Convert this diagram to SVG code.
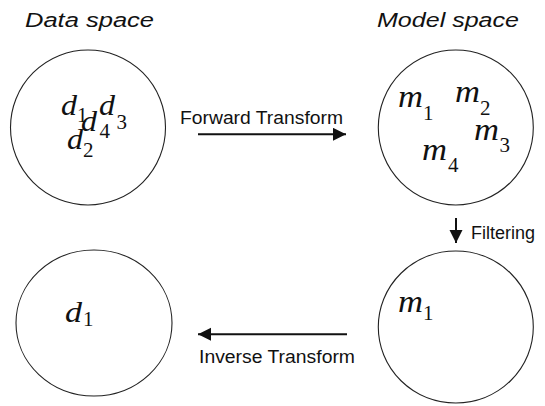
<svg xmlns="http://www.w3.org/2000/svg" width="545" height="406" viewBox="0 0 545 406">
<defs>
<style>
.ring{fill:none;stroke:#222;stroke-width:1.1}
.title{font-family:"Liberation Sans",Arial,sans-serif;font-style:italic;font-size:20px;fill:#111}
.lbl{font-family:"Liberation Sans",Arial,sans-serif;font-size:17.5px;fill:#111}
.v{font-family:"Liberation Serif","Times New Roman",serif;font-style:italic;font-size:29px;fill:#111}
.m{font-family:"Liberation Serif","Times New Roman",serif;font-style:italic;font-size:31px;fill:#111}
.s{font-family:"Liberation Serif","Times New Roman",serif;font-size:21px;fill:#111}
.conn{stroke:#111;stroke-width:2;fill:none}
</style>
<marker id="ah" markerUnits="userSpaceOnUse" markerWidth="14" markerHeight="14" refX="13" refY="6.5" orient="auto">
<path d="M0,0 L13,6.5 L0,13 Z" fill="#111"/>
</marker>
</defs>
<text class="title" x="25" y="27" textLength="129" lengthAdjust="spacingAndGlyphs">Data space</text>
<text class="title" x="377" y="27" textLength="142" lengthAdjust="spacingAndGlyphs">Model space</text>
<g id="data-space">
<ellipse class="ring" cx="88" cy="127.5" rx="77.5" ry="77.5"/>
<text class="v" x="61" y="115" textLength="16" lengthAdjust="spacingAndGlyphs">d</text><text class="s" x="77" y="122">1</text>
<text class="v" x="81" y="131" textLength="16" lengthAdjust="spacingAndGlyphs">d</text><text class="s" x="99.5" y="138">4</text>
<text class="v" x="99" y="115" textLength="16" lengthAdjust="spacingAndGlyphs">d</text><text class="s" x="116.5" y="129">3</text>
<text class="v" x="67" y="149" textLength="16" lengthAdjust="spacingAndGlyphs">d</text><text class="s" x="83" y="157">2</text>
</g>
<g id="model-space">
<ellipse class="ring" cx="455.8" cy="127.5" rx="77.5" ry="77.5"/>
<text class="m" x="398" y="107" textLength="25" lengthAdjust="spacingAndGlyphs">m</text><text class="s" x="423" y="120">1</text>
<text class="m" x="455" y="102" textLength="25" lengthAdjust="spacingAndGlyphs">m</text><text class="s" x="480" y="115">2</text>
<text class="m" x="474" y="140" textLength="25" lengthAdjust="spacingAndGlyphs">m</text><text class="s" x="499.5" y="152">3</text>
<text class="m" x="422" y="160" textLength="25" lengthAdjust="spacingAndGlyphs">m</text><text class="s" x="448" y="172">4</text>
</g>
<g id="filtered-model">
<ellipse class="ring" cx="455.8" cy="327" rx="77.5" ry="76"/>
<text class="m" x="398" y="311.5" textLength="25" lengthAdjust="spacingAndGlyphs">m</text><text class="s" x="423" y="320">1</text>
</g>
<g id="reconstructed-data">
<ellipse class="ring" cx="94" cy="323" rx="78" ry="73"/>
<text class="v" x="65" y="322" textLength="17" lengthAdjust="spacingAndGlyphs">d</text><text class="s" x="83" y="326">1</text>
</g>
<g id="connectors">
<line class="conn" x1="198" y1="134.3" x2="346" y2="134.3" marker-end="url(#ah)"/>
<text class="lbl" x="180" y="124" textLength="163" lengthAdjust="spacingAndGlyphs">Forward Transform</text>
<line class="conn" x1="456" y1="218" x2="456" y2="243" marker-end="url(#ah)"/>
<text class="lbl" x="471" y="239" textLength="64" lengthAdjust="spacingAndGlyphs">Filtering</text>
<line class="conn" x1="347" y1="334.3" x2="198" y2="334.3" marker-end="url(#ah)"/>
<text class="lbl" x="199" y="363" textLength="156" lengthAdjust="spacingAndGlyphs">Inverse Transform</text>
</g>
</svg>
